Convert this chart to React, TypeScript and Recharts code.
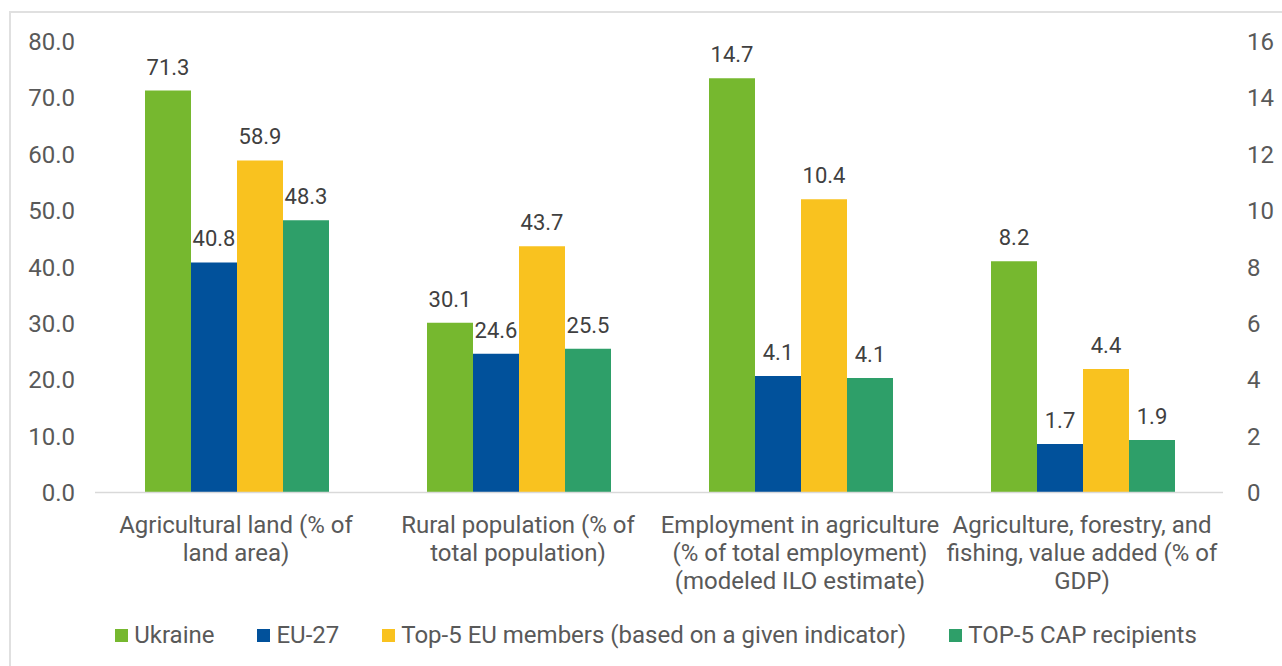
import React from 'react';
import { BarChart, Bar, XAxis, YAxis, LabelList } from 'recharts';

const categories = [
  'Agricultural land (% of land area)',
  'Rural population (% of total population)',
  'Employment in agriculture (% of total employment) (modeled ILO estimate)',
  'Agriculture, forestry, and fishing, value added (% of GDP)',
];
const categoryLines = [
  ['Agricultural land (% of', 'land area)'],
  ['Rural population (% of', 'total population)'],
  ['Employment in agriculture', '(% of total employment)', '(modeled ILO estimate)'],
  ['Agriculture, forestry, and', 'fishing, value added (% of', 'GDP)'],
];
// which value axis each category is read on
const categoryAxis = ['left', 'left', 'right', 'right'];

const ukraine = [71.3, 30.1, 14.7, 8.2];
const eu27 = [40.8, 24.6, 4.13, 1.72];
const top5 = [58.9, 43.7, 10.4, 4.38];
const capRecipients = [48.3, 25.5, 4.06, 1.86];

const seriesNames = ['Ukraine', 'EU-27', 'Top-5 EU members (based on a given indicator)', 'TOP-5 CAP recipients'];
const seriesValues = [ukraine, eu27, top5, capRecipients];
const seriesColors = ['#76B82F', '#01519B', '#F9C21F', '#2E9F69'];

const leftTicks = [0, 10, 20, 30, 40, 50, 60, 70, 80];
const rightTicks = [0, 2, 4, 6, 8, 10, 12, 14, 16];

const data = categories.map((name, ci) => {
  const row: Record<string, any> = { name };
  seriesValues.forEach((vals, si) => {
    row[`s${si}left`] = categoryAxis[ci] === 'left' ? vals[ci] : null;
    row[`s${si}right`] = categoryAxis[ci] === 'right' ? vals[ci] : null;
  });
  return row;
});

const FONT = 'Roboto, "Noto Sans", sans-serif';
const TEXT = '#595959';

const CategoryTick = (props: any) => {
  const { x, y, payload } = props;
  const ci = categories.indexOf(payload.value);
  const lines = categoryLines[ci] || [String(payload.value)];
  return (
    <text x={x} y={y} textAnchor="middle" fill={TEXT} fontSize={24} fontFamily={FONT}>
      {lines.map((l, i) => (
        <tspan key={i} x={x} dy={i === 0 ? 40 : 28}>
          {l}
        </tspan>
      ))}
    </text>
  );
};

const renderLabel = (props: any) => {
  const { x, y, width, value } = props;
  const raw = Array.isArray(value) ? value[1] - value[0] : value;
  if (raw == null || !isFinite(Number(raw)) || Number(raw) === 0) return null;
  return (
    <text
      x={Number(x) + Number(width) / 2}
      y={Number(y) - 16}
      textAnchor="middle"
      fill="#404040"
      fontSize={22}
      fontFamily={FONT}
    >
      {Number(raw).toFixed(1)}
    </text>
  );
};

export default function App() {
  const sides = ['left', 'right'];
  return (
    <div style={{ position: 'absolute', left: 0, top: 0, width: 1282, height: 666, background: '#fff', overflow: 'hidden' }}>
      <div
        style={{
          position: 'absolute',
          left: 9,
          top: 11,
          width: 1300,
          height: 700,
          borderTop: '2px solid #e0e0e0',
          borderLeft: '2px solid #e0e0e0',
        }}
      />
      <div style={{ position: 'absolute', left: 0, top: 0 }}>
        <BarChart
          width={1282}
          height={666}
          data={data}
          margin={{ top: 41.5, right: 0, bottom: 73.5, left: 0 }}
          barCategoryGap={50}
          barGap={0}
        >
          <XAxis
            dataKey="name"
            tickLine={false}
            axisLine={{ stroke: '#d9d9d9', strokeWidth: 1.5 }}
            tick={<CategoryTick />}
            height={100}
            interval={0}
            tickSize={0}
            tickMargin={0}
          />
          <YAxis
            yAxisId="left"
            orientation="left"
            domain={[0, 80]}
            ticks={leftTicks}
            tickFormatter={(v: number) => v.toFixed(1)}
            axisLine={false}
            tickLine={false}
            tickSize={0}
            tickMargin={20}
            width={95}
            tick={{ fill: TEXT, fontSize: 24, fontFamily: FONT }}
          />
          <YAxis
            yAxisId="right"
            orientation="right"
            domain={[0, 16]}
            ticks={rightTicks}
            axisLine={false}
            tickLine={false}
            tickSize={0}
            tickMargin={24}
            width={59}
            tick={{ fill: TEXT, fontSize: 24, fontFamily: FONT, textAnchor: 'start' }}
          />
          {sides.map((side) =>
            seriesNames.map((nm, si) => (
              <Bar
                key={`${side}-${si}`}
                yAxisId={side}
                dataKey={`s${si}${side}`}
                stackId={`stack${si}`}
                name={nm}
                fill={seriesColors[si]}
                isAnimationActive={false}
              >
                <LabelList content={renderLabel} />
              </Bar>
            ))
          )}
        </BarChart>
      </div>
      <div
        style={{
          position: 'absolute',
          left: 0,
          width: 1312,
          top: 620,
          height: 30,
          display: 'flex',
          justifyContent: 'center',
          alignItems: 'center',
          fontFamily: FONT,
          fontSize: 24,
          color: TEXT,
          whiteSpace: 'nowrap',
        }}
      >
        {seriesNames.map((nm, si) => (
          <div key={nm} style={{ display: 'flex', alignItems: 'center', marginRight: si < 3 ? 43 : 0 }}>
            <div style={{ width: 13, height: 13, background: seriesColors[si], marginRight: 6 }} />
            <span>{nm}</span>
          </div>
        ))}
      </div>
    </div>
  );
}
